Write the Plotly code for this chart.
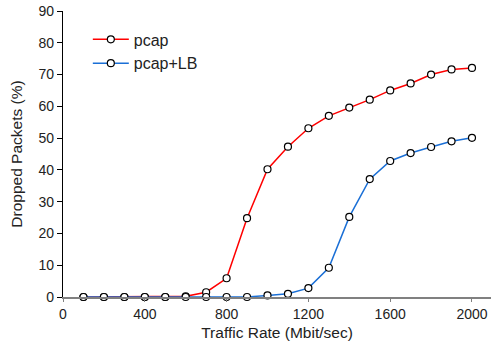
import plotly.graph_objects as go

rate = [100, 200, 300, 400, 500, 600, 700, 800, 900, 1000,
        1100, 1200, 1300, 1400, 1500, 1600, 1700, 1800, 1900, 2000]
pcap = [0, 0, 0, 0, 0, 0.2, 1.5, 5.9, 24.8, 40.2,
        47.3, 53.1, 57.0, 59.6, 62.1, 65.0, 67.2, 70.0, 71.6, 72.1]
pcap_lb = [0, 0, 0, 0, 0, 0, 0, 0, 0, 0.5,
           1.0, 2.8, 9.2, 25.2, 37.1, 42.8, 45.3, 47.2, 49.0, 50.1]

x_ticks = [0, 400, 800, 1200, 1600, 2000]
y_ticks = [0, 10, 20, 30, 40, 50, 60, 70, 80, 90]

marker = dict(symbol="circle", size=7, color="white",
              line=dict(color="black", width=1.2))

fig = go.Figure()
fig.add_trace(go.Scatter(x=rate, y=pcap, name="pcap", mode="lines+markers",
                         line=dict(color="#ff0000", width=1.5), marker=marker,
                         cliponaxis=False))
fig.add_trace(go.Scatter(x=rate, y=pcap_lb, name="pcap+LB", mode="lines+markers",
                         line=dict(color="#1a6fd6", width=1.5), marker=marker,
                         cliponaxis=False))

font = "Liberation Sans, Arial, sans-serif"
fig.update_layout(
    width=491, height=345,
    margin=dict(l=63, r=0, t=11, b=48),
    paper_bgcolor="white", plot_bgcolor="white",
    font=dict(family=font, size=14, color="#222222"),
    showlegend=True,
    legend=dict(x=0.058, y=0.96, xanchor="left", yanchor="top",
                bgcolor="rgba(0,0,0,0)", font=dict(size=16, color="#222222"),
                itemwidth=36, tracegroupgap=0),
    xaxis=dict(range=[0, 2093], tickvals=x_ticks, showgrid=False, zeroline=False,
               showline=True, linecolor="#808080", linewidth=1.5,
               ticks="outside", ticklen=3, tickcolor="#808080",
               title=dict(text="Traffic Rate (Mbit/sec)", font=dict(size=15.5), standoff=7),
               tickfont=dict(size=14)),
    yaxis=dict(range=[0, 90], tickvals=y_ticks, showgrid=False, zeroline=False,
               showline=True, linecolor="black", linewidth=1.2,
               ticks="outside", ticklen=5, tickcolor="black",
               title=dict(text="Dropped Packets (%)", font=dict(size=15.5), standoff=12),
               tickfont=dict(size=14)),
)

fig.write_html("out.html")
